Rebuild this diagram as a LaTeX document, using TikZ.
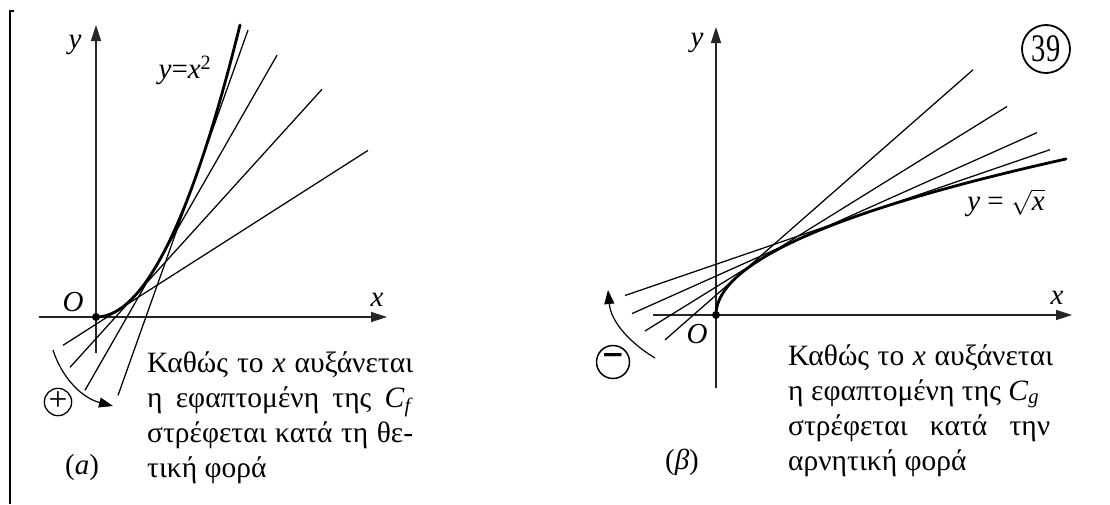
\documentclass[tikz,border=0pt]{standalone}
\usepackage{fontspec}
\setmainfont{Liberation Serif}
\usetikzlibrary{arrows.meta}
\begin{document}
\begin{tikzpicture}[x=1pt,y=-1pt,
  axis/.style={line width=1.4pt, draw=black!85, -{Triangle[length=16pt,width=10pt]}},
  curve/.style={line width=2.8pt, line cap=round},
  tang/.style={line width=1.25pt},
  rot/.style={line width=1.2pt, -{Triangle[length=14pt,width=10pt]}},
  lbl/.style={font=\fontsize{29}{34}\selectfont, inner sep=0pt},
  txt/.style={font=\fontsize{29.5}{35}\selectfont, inner sep=0pt, anchor=base west},
  dot/.style={circle, fill=black, inner sep=0pt, minimum size=8pt},
]
\useasboundingbox (0,0) rectangle (1110,504);
% left border
\draw[line width=2.7pt] (14,11) -- (10,11) -- (10,504);

% ===== panel (a) =====
\coordinate (ax0) at (39,317);
\coordinate (ax1) at (387,317);
\coordinate (ay0) at (96,353);
\coordinate (ay1) at (96,25);
\draw[axis] (ax0) -- (ax1);
\draw[axis] (ay0) -- (ay1);
% tangents
\draw[tang] (63,345.3) -- (368,150.4);
\draw[tang] (70,367.3) -- (322,89.3);
\draw[tang] (85,390.3) -- (277,55.2);
\draw[tang] (118,395.4) -- (248,30.1);
% parabola
\draw[curve] plot[domain=-2:144, samples=80] ({96+\x},{317-0.01408*\x*\x});
\node[dot] (Oa) at (96,317) {};
\node[lbl] (Olab) at (73,302) {\itshape O};
\node[lbl] (xlab) at (377,300) {\itshape x};
\node[lbl] (ylab) at (75,45) {\itshape y};
\node[lbl] (feq) at (185,70) {\itshape y\/{\upshape=}x\textsuperscript{\upshape 2}};
% rotation arrow
\coordinate (ra0) at (53,350);
\coordinate (ra1) at (113,406);
\draw[rot] (ra0) .. controls (62,378) and (82,398) .. (ra1);
\node[draw, circle, line width=1.3pt, minimum size=25pt, inner sep=0pt, lbl] (plus) at (58,402) {\raisebox{1pt}{\scalebox{1.15}{+}}};
\node[lbl] (capa) at (82,468) {(\textit{a})};
\node[txt] (a1) at (147,372) {\makebox[266pt][s]{Καθώς το \textit{x} αυξάνεται}};
\node[txt] (a2) at (147,407) {\makebox[266pt][s]{η εφαπτομένη της \textit{C}\textsubscript{\textit{f}}}};
\node[txt] (a3) at (147,442) {\makebox[266pt][s]{στρέφεται κατά τη θε-}};
\node[txt] (a4) at (147,477) {τική φορά};

% ===== panel (beta) =====
\coordinate (bx0) at (653,315);
\coordinate (bx1) at (1072,315);
\coordinate (by0) at (716,388);
\coordinate (by1) at (716,27);
\draw[axis] (bx0) -- (bx1);
\draw[axis] (by0) -- (by1);
% tangents
\draw[tang] (665,339.9) -- (973,69.8);
\draw[tang] (645,331.0) -- (1007,106.5);
\draw[tang] (632,313.6) -- (1037,132.6);
\draw[tang] (625,295.5) -- (1050,149.7);
% sqrt curve
\draw[curve] plot[domain=0:18.71, samples=80] ({716+\x*\x},{315-8.34*\x});
\node[dot] (Ob) at (716,315) {};
\node[lbl] (Olab2) at (697,334) {\itshape O};
\node[lbl] (xlab2) at (1057,298) {\itshape x};
\node[lbl] (ylab2) at (697,43) {\itshape y};
\node[lbl] (geq) at (1006,203) {\itshape y {\upshape =} $\sqrt{\mbox{\itshape x}}$};
% rotation arrow
\coordinate (rb0) at (655,358);
\coordinate (rb1) at (608,290);
\draw[rot] (rb0) .. controls (630,343) and (611,322) .. (rb1);
\node[draw, circle, line width=1.5pt, minimum size=33pt, inner sep=0pt, lbl] (minus) at (613,362) {\scalebox{1.3}[1.6]{\textbf{−}}};
\node[lbl] (capb) at (682,462) {(\textit{β})};
\node[draw, circle, line width=1.8pt, minimum size=48pt, inner sep=0pt] (num) at (1046,49) {\fontsize{30}{30}\selectfont\scalebox{0.95}[1.3]{39}};
\node[txt] (b1) at (788,365) {\makebox[265pt][s]{Καθώς το \textit{x} αυξάνεται}};
\node[txt] (b2) at (788,400) {\makebox[251pt][s]{η εφαπτομένη της \textit{C}\textsubscript{\textit{g}}}};
\node[txt] (b3) at (788,435) {\makebox[262pt][s]{στρέφεται κατά την}};
\node[txt] (b4) at (788,470) {αρνητική φορά};
\end{tikzpicture}
\end{document}
